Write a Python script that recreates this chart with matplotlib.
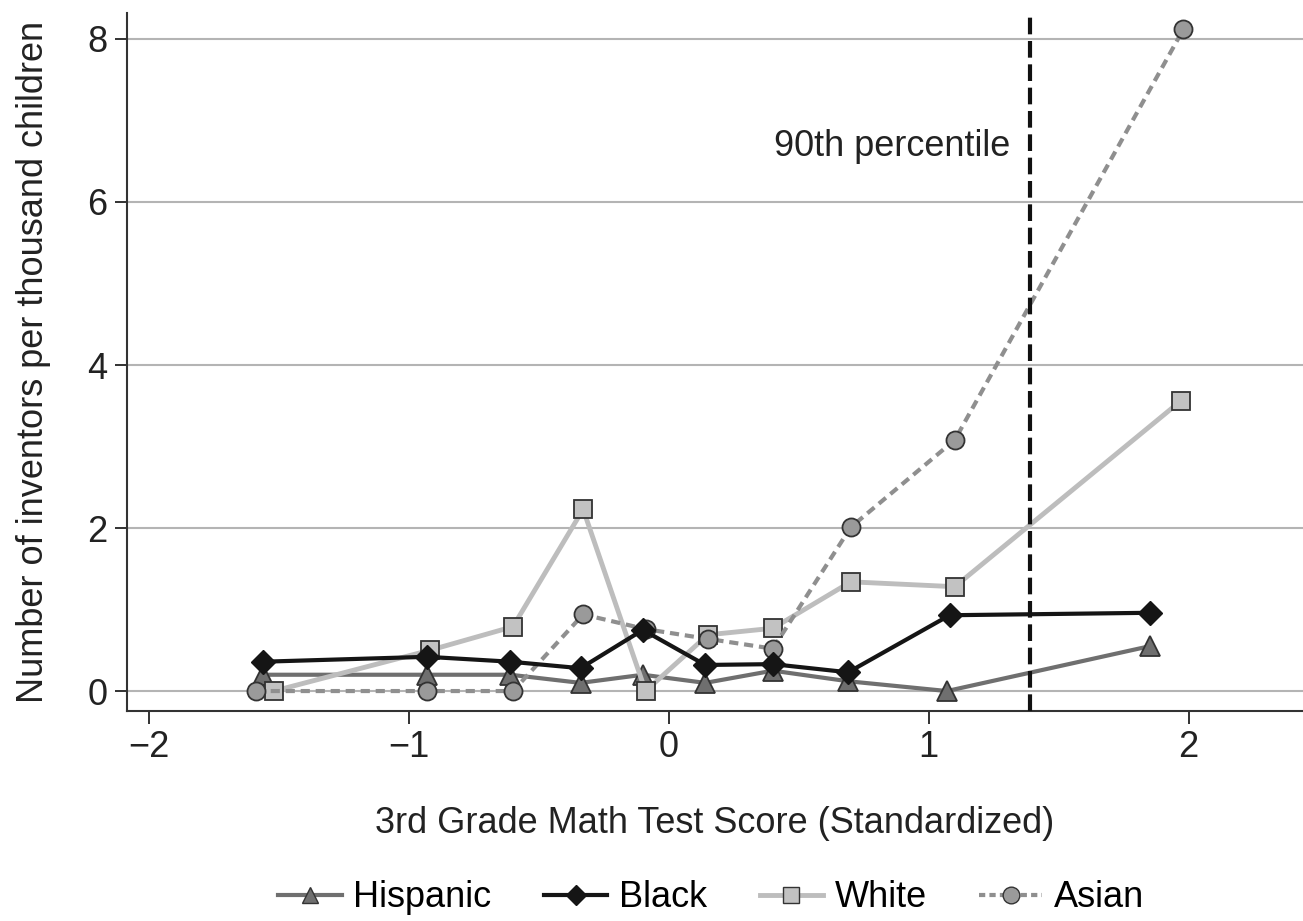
import matplotlib
matplotlib.use("Agg")
import matplotlib.pyplot as plt
from matplotlib.lines import Line2D

plt.rcParams['font.family'] = ['Liberation Sans', 'DejaVu Sans']

# values
hisp_x = [-1.56, -0.93, -0.61, -0.34, -0.10, 0.14, 0.40, 0.69, 1.07, 1.85]
hisp_y = [0.20, 0.20, 0.20, 0.10, 0.20, 0.10, 0.25, 0.12, 0.0, 0.55]

black_x = [-1.56, -0.93, -0.61, -0.34, -0.10, 0.14, 0.40, 0.69, 1.08, 1.85]
black_y = [0.36, 0.42, 0.36, 0.28, 0.75, 0.32, 0.33, 0.23, 0.93, 0.96]

white_x = [-1.52, -0.92, -0.60, -0.33, -0.09, 0.15, 0.40, 0.70, 1.10, 1.97]
white_y = [0.0, 0.50, 0.79, 2.23, 0.0, 0.69, 0.77, 1.34, 1.28, 3.56]

asian_x = [-1.59, -0.93, -0.60, -0.33, -0.09, 0.15, 0.40, 0.70, 1.10, 1.98]
asian_y = [0.0, 0.0, 0.0, 0.94, 0.76, 0.64, 0.52, 2.01, 3.08, 8.12]

p90 = 1.39

fig = plt.figure(figsize=(13.03, 9.21), dpi=100)
ax = fig.add_axes([0.0975, 0.228, 0.9025, 0.758])

ax.yaxis.grid(True, color='#b4b4b4', lw=1.5, zorder=0)
ax.set_axisbelow(True)

ax.plot(hisp_x, hisp_y, color='#6f6f6f', lw=3, marker='^', ms=14,
        mfc='#6f6f6f', mec='#333333', mew=1.3, label='Hispanic', zorder=3)
ax.plot(black_x, black_y, color='#151515', lw=3, marker='D', ms=12,
        mfc='#151515', mec='#151515', label='Black', zorder=4)
ax.plot(white_x, white_y, color='#bdbdbd', lw=3.5, marker='s', ms=13,
        mfc='#c2c2c2', mec='#333333', mew=1.3, label='White', zorder=3)
ax.plot(asian_x, asian_y, color='#8f8f8f', lw=3, ls=(0, (2.2, 1.4)), marker='o', ms=13,
        mfc='#9a9a9a', mec='#333333', mew=1.3, label='Asian', zorder=3)

ax.axvline(p90, color='#111111', lw=3, ls=(0, (4, 1.6)), zorder=5)
ax.text(p90 - 0.075, 6.68, '90th percentile', ha='right', va='center', fontsize=26, color='#222222')

ax.set_xlim(-2.085, 2.44)
ax.set_ylim(-0.245, 8.32)
ax.set_xticks([-2, -1, 0, 1, 2])
ax.set_xticklabels(['\u22122', '\u22121', '0', '1', '2'])
ax.set_yticks([0, 2, 4, 6, 8])
ax.tick_params(labelsize=26, length=9, width=1.3, colors='#222222', pad=5)

for s in ['top', 'right']:
    ax.spines[s].set_visible(False)
for s in ['left', 'bottom']:
    ax.spines[s].set_linewidth(1.5)
    ax.spines[s].set_color('#333333')

ax.set_xlabel('3rd Grade Math Test Score (Standardized)', fontsize=26, color='#222222', labelpad=29)
ax.set_ylabel('Number of inventors per thousand children', fontsize=26, color='#222222', labelpad=26)

handles = [
    Line2D([], [], color='#6f6f6f', lw=3, marker='^', ms=12, mfc='#6f6f6f', mec='#333333'),
    Line2D([], [], color='#151515', lw=3, marker='D', ms=10, mfc='#151515'),
    Line2D([], [], color='#bdbdbd', lw=3.5, marker='s', ms=12, mfc='#c2c2c2', mec='#333333'),
    Line2D([], [], color='#8f8f8f', lw=3, ls=(0, (1.5, 1)), marker='o', ms=12, mfc='#9a9a9a', mec='#333333'),
]
fig.legend(handles, ['Hispanic', 'Black', 'White', 'Asian'], loc='center',
           bbox_to_anchor=(0.546, 0.025), ncol=4, frameon=False, fontsize=26,
           handlelength=1.75, handletextpad=0.33, columnspacing=1.45)

fig.savefig('out.png', dpi=100)
